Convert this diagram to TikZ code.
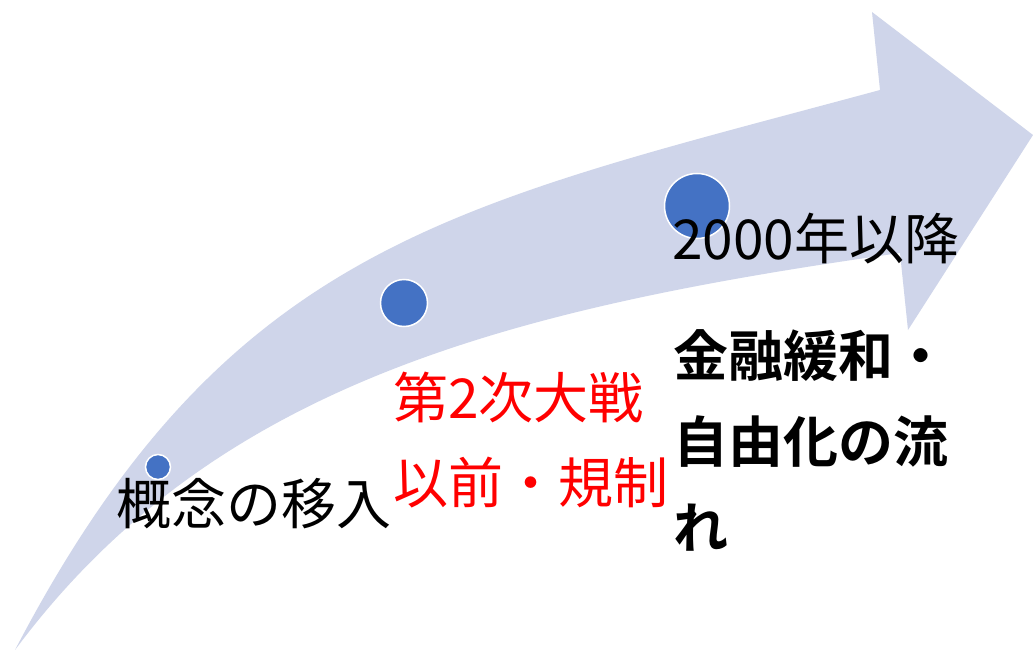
\documentclass[tikz,border=0pt]{standalone}
\usepackage{fontspec}
\newfontfamily\jpfont{Noto Sans CJK JP}
\newfontfamily\jpbold{Noto Sans CJK JP Bold}
\definecolor{arrowfill}{HTML}{CFD5EA}
\definecolor{dotblue}{HTML}{4472C4}
\definecolor{redtext}{HTML}{FF0000}
\tikzset{
  dotnode/.style={circle, fill=dotblue, draw=white, line width=1.5pt, inner sep=0pt},
  label55/.style={anchor=base west, inner sep=0pt, outer sep=0pt, font=\jpfont\fontsize{55}{85}\selectfont},
  bold55/.style={anchor=base west, inner sep=0pt, outer sep=0pt, font=\jpbold\fontsize{55}{85}\selectfont},
}
\begin{document}
\begin{tikzpicture}[x=1pt, y=-1pt]
\useasboundingbox (0,0) rectangle (1033,650);
\fill[white] (0,0) rectangle (1033,650);
% curved arrow
\fill[arrowfill]
  (15,650) .. controls (228,242) and (455,205) .. (880,90)
  -- (872,12) -- (1033,135) -- (908,330) -- (900,253)
  .. controls (504,309) and (212,385) .. (15,650)
  -- cycle;
% dots
\node[dotnode, minimum size=25pt] (c1) at (158,467) {};
\node[dotnode, minimum size=47pt] (c2) at (404,303) {};
\node[dotnode, minimum size=65pt] (c3) at (697,206) {};
% texts
\node[label55] (t1) at (116,524) {概念の移入};
\node[label55, text=redtext] (t2a) at (393,418) {第2次大戦};
\node[label55, text=redtext] (t2b) at (393,503) {以前・規制};
\node[label55] (t3) at (672,259) {2000年以降};
\node[bold55] (t4a) at (673,376) {金融緩和・};
\node[bold55] (t4b) at (673,462) {自由化の流};
\node[bold55] (t4c) at (673,548) {れ};
\end{tikzpicture}
\end{document}
